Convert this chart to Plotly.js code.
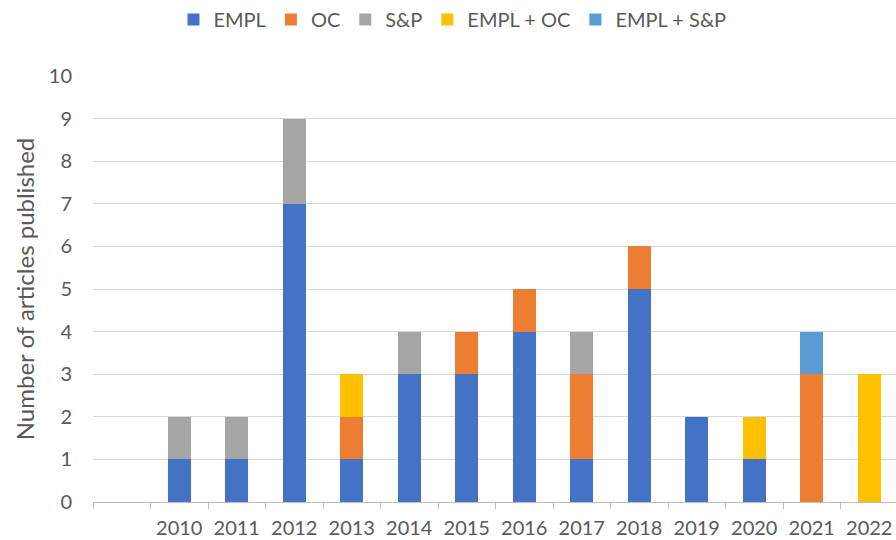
<!DOCTYPE html>
<html>
<head>
<meta charset="utf-8">
<script src="https://cdn.plot.ly/plotly-3.0.1.min.js"></script>
<style>html,body{margin:0;padding:0;background:#fff;}#chart{width:896px;height:540px;}</style>
</head>
<body>
<div id="chart"></div>
<script>
const years = [2010, 2011, 2012, 2013, 2014, 2015, 2016, 2017, 2018, 2019, 2020, 2021, 2022];
const empl     = [1, 1, 7, 1, 3, 3, 4, 1, 5, 2, 1, 0, 0];
const oc       = [0, 0, 0, 1, 0, 1, 1, 2, 1, 0, 0, 3, 0];
const sp       = [1, 1, 2, 0, 1, 0, 0, 1, 0, 0, 0, 0, 0];
const emplOc   = [0, 0, 0, 1, 0, 0, 0, 0, 0, 0, 1, 0, 3];
const emplSp   = [0, 0, 0, 0, 0, 0, 0, 0, 0, 0, 0, 1, 0];
const seriesNames = ['EMPL', 'OC', 'S&P', 'EMPL + OC', 'EMPL + S&P'];
const seriesColors = ['#4472C4', '#ED7D31', '#A5A5A5', '#FFC000', '#5B9BD5'];
const yTicks = [0, 1, 2, 3, 4, 5, 6, 7, 8, 9, 10];

const seriesValues = [empl, oc, sp, emplOc, emplSp];
const traces = seriesValues.map((vals, i) => ({
  type: 'bar',
  name: seriesNames[i],
  x: years,
  y: vals,
  marker: {color: seriesColors[i], line: {width: 0}},
  hoverinfo: 'x+y+name'
}));

const font = 'Lato, "Open Sans", sans-serif';
const layout = {
  width: 896, height: 540,
  barmode: 'stack',
  bargap: 0.6,
  paper_bgcolor: '#ffffff',
  plot_bgcolor: '#ffffff',
  margin: {l: 93, r: 0, t: 76, b: 38, pad: 0},
  font: {family: font, size: 20, color: '#595959'},
  showlegend: true,
  legend: {
    orientation: 'h',
    xref: 'container', yref: 'container',
    x: 0.505, xanchor: 'center',
    y: 1.0, yanchor: 'top',
    font: {family: font, size: 20, color: '#595959'},
    traceorder: 'normal',
    itemwidth: 30
  },
  xaxis: {
    type: 'linear',
    range: [2008.5, 2022.465],
    tickmode: 'array',
    tickvals: years,
    ticktext: years.map(String),
    ticks: '',
    ticklabelstandoff: 8,
    showgrid: false,
    zeroline: false,
    showline: true,
    linecolor: '#BFBFBF',
    linewidth: 1,
    minor: {ticks: 'outside', tick0: 2008.5, dtick: 1, ticklen: 6, tickcolor: '#BFBFBF', tickwidth: 1, showgrid: false},
    tickfont: {family: font, size: 20, color: '#595959'},
    fixedrange: true
  },
  yaxis: {
    range: [0, 10],
    tickmode: 'array',
    tickvals: yTicks,
    ticks: '',
    showgrid: true,
    gridcolor: '#D9D9D9',
    gridwidth: 1,
    zeroline: false,
    showline: false,
    ticklabelstandoff: 20,
    tickfont: {family: font, size: 20, color: '#595959'},
    title: {text: 'Number of articles published', font: {family: font, size: 24, color: '#595959'}, standoff: 7},
    fixedrange: true
  }
};

Plotly.newPlot('chart', traces, layout, {displayModeBar: false, staticPlot: true});
</script>
</body>
</html>
